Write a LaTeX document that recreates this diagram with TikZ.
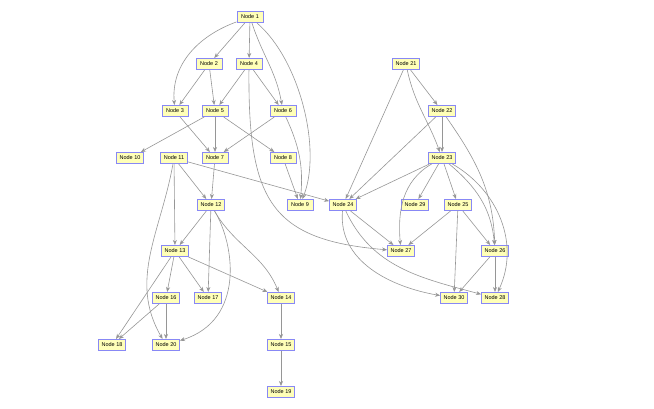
\documentclass[tikz,border=0pt]{standalone}
\usepackage{fontspec}
\setmainfont{Liberation Sans}
\usetikzlibrary{arrows.meta}
\definecolor{nc}{RGB}{255,255,184}
\definecolor{bc}{RGB}{136,136,245}
\definecolor{ec}{RGB}{150,150,150}
\tikzset{nd/.style={draw=bc,fill=nc,line width=1pt,minimum width=26pt,minimum height=11pt,inner xsep=3pt,inner ysep=1pt,font=\fontsize{5.5}{6}\selectfont},
 arr/.style={draw=ec,line width=.6pt,-{Stealth[length=5pt,width=4pt,inset=1.5pt]}}}
\begin{document}
\begin{tikzpicture}[x=1pt,y=-1pt]
\useasboundingbox (0,0) rectangle (654,409);
\foreach \n/\x/\y in {1/250/17,2/209/64,4/249/64,21/406/64,3/175/111,5/215/111,6/283/111,22/442/111,
 10/130/158,11/174/158,7/215/158,8/283/158,23/442/158,12/211/205,9/300/205,24/343/205,29/415/205,25/458/205,
 13/175/251,27/401/251,26/495/251,16/166/298,17/208/298,14/281/298,30/454/298,28/495/298,
 18/112/345,20/166/345,15/281/345,19/281/392}{
\node[nd] (n\n) at (\x,\y) {Node \n};}
% straight edges
\foreach \a/\b in {1/2,1/4,2/3,2/5,4/5,4/6,3/7,5/7,6/7,5/10,5/8,8/9,7/12,11/12,11/13,11/24,
 12/13,12/17,13/16,13/17,13/14,13/18,16/18,16/20,14/15,15/19,
 21/22,21/24,22/23,22/24,23/24,23/29,23/25,24/27,25/27,25/26,25/30,26/30,26/28}{
\draw[arr] (n\a)--(n\b);}
% curved edges
\draw[arr] (n1) to[out=-72,in=100] (n6);
\draw[arr] (n1) to[out=-160,in=95] (n3);
\draw[arr] (n1) .. controls (300,60) and (322,150) .. (n9);
\draw[arr] (n6) to[out=-65,in=85] (n9);
\draw[arr] (n4) .. controls (248,200) and (270,240) .. (n27);
\draw[arr] (n11) to[out=-100,in=120] (n20);
\draw[arr] (n12) .. controls (235,245) and (245,320) .. (n20);
\draw[arr] (n12) to[out=-60,in=112] (n14);
\draw[arr] (n21) to[out=-78,in=110] (n23);
\draw[arr] (n22) to[out=-55,in=92] (n26);
\draw[arr] (n23) to[out=-150,in=95] (n27);
\draw[arr] (n23) to[out=-40,in=95] (n26);
\draw[arr] (n23) to[out=-30,in=65] (n28);
\draw[arr] (n24) to[out=-95,in=170] (n30);
\draw[arr] (n24) to[out=-65,in=165] (n28);
\end{tikzpicture}
\end{document}
